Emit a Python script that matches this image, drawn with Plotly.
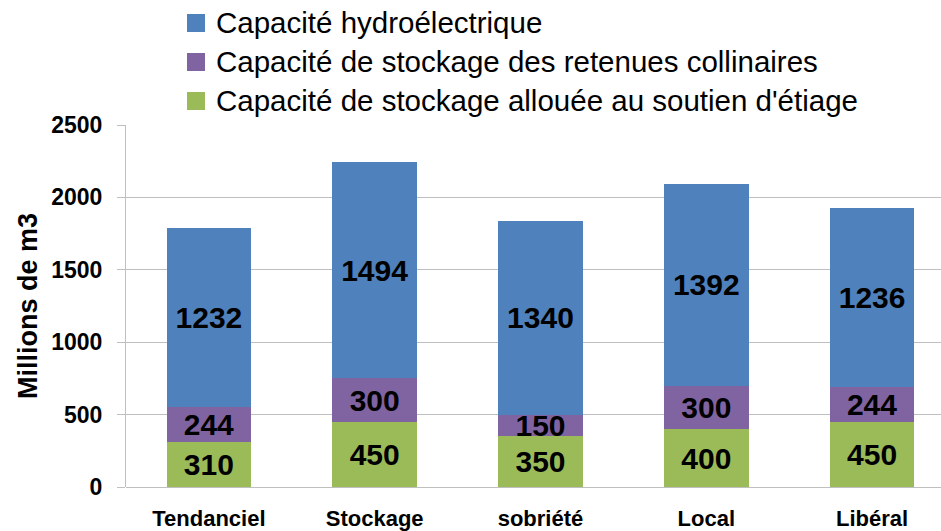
import plotly.graph_objects as go

# Scenario categories and stacked capacities (millions of m3)
scenarios = ["Tendanciel", "Stockage", "sobriété", "Local", "Libéral"]
soutien_etiage = [310, 450, 350, 400, 450]
retenues_collinaires = [244, 300, 150, 300, 244]
hydroelectrique = [1232, 1494, 1340, 1392, 1236]

y_ticks = [0, 500, 1000, 1500, 2000, 2500]

FONT = "Liberation Sans, Arial, sans-serif"

series = [
    ("Capacité de stockage allouée au soutien d'étiage", soutien_etiage, "#9BBB59"),
    ("Capacité de stockage des retenues collinaires", retenues_collinaires, "#8064A2"),
    ("Capacité hydroélectrique", hydroelectrique, "#4F81BD"),
]

W, H = 941, 531
M_L, M_R, M_T, M_B = 126, 0, 125, 44
plot_w = W - M_L - M_R
plot_h = H - M_T - M_B


def px_to_paper(px, py):
    return (px - M_L) / plot_w, (H - M_B - py) / plot_h


fig = go.Figure()
for name, values, color in series:
    fig.add_trace(go.Bar(
        x=scenarios, y=values, name=name,
        marker=dict(color=color, line=dict(width=0)),
        width=0.51,
        text=[str(v) for v in values],
        textposition="inside",
        insidetextanchor="middle",
        textangle=0,
        textfont=dict(family=FONT, size=30, color="black", weight="bold"),
        cliponaxis=False,
        showlegend=False,
    ))

# Legend drawn as colour squares and labels above the plot, top entry first
shapes = []
annotations = []
legend_rows = [23, 62, 101]
for (name, _, color), row_y in zip(reversed(series), legend_rows):
    x0, y0 = px_to_paper(187, row_y + 9)
    x1, y1 = px_to_paper(205, row_y - 9)
    shapes.append(dict(type="rect", xref="paper", yref="paper",
                       x0=x0, y0=y0, x1=x1, y1=y1,
                       fillcolor=color, line=dict(width=0)))
    tx, ty = px_to_paper(214, row_y)
    annotations.append(dict(text=name, xref="paper", yref="paper",
                            x=tx, y=ty, xanchor="left", yanchor="middle",
                            showarrow=False,
                            font=dict(family=FONT, size=29.5, color="black")))

fig.update_layout(
    barmode="stack",
    width=W, height=H,
    margin=dict(l=M_L, r=M_R, t=M_T, b=M_B),
    paper_bgcolor="white", plot_bgcolor="white",
    font=dict(family=FONT, color="black"),
    uniformtext=dict(minsize=30, mode="show"),
    showlegend=False,
    shapes=shapes,
    annotations=annotations,
    xaxis=dict(
        range=[-0.5, 4.5 - 14 / 166],
        showline=False, showgrid=False, ticks="",
        tickfont=dict(family=FONT, size=22, color="black", weight="bold"),
        ticklabelstandoff=16,
    ),
    yaxis=dict(
        range=[0, 2500],
        tickvals=y_ticks,
        showgrid=True, gridcolor="#BFBFBF", gridwidth=1,
        showline=True, linecolor="#BFBFBF", linewidth=1,
        ticks="outside", ticklen=8, tickcolor="#BFBFBF",
        zeroline=True, zerolinecolor="#BFBFBF", zerolinewidth=1,
        tickfont=dict(family=FONT, size=23, color="black", weight="bold"),
        ticklabelstandoff=10,
        title=dict(text="Millions de m3",
                   font=dict(family=FONT, size=27, color="black", weight="bold"),
                   standoff=5),
    ),
)

fig.write_html("out.html")
